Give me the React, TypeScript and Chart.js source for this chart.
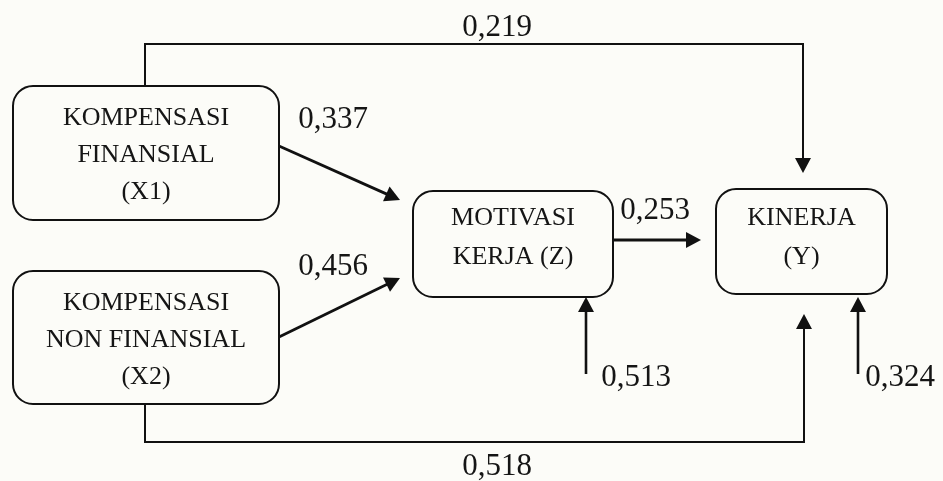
import React, { useEffect, useRef } from "react";
import { Chart, registerables } from "chart.js";

Chart.register(...registerables);

// ---- Data ----
const nodeIds = ["X1", "X2", "Z", "Y"];
const nodeLabels = [
  ["KOMPENSASI", "FINANSIAL", "(X1)"],
  ["KOMPENSASI", "NON FINANSIAL", "(X2)"],
  ["MOTIVASI", "KERJA (Z)"],
  ["KINERJA", "(Y)"],
];
const pathFrom = ["X1", "X2", "X1", "X2", "Z", "eZ", "eY"];
const pathTo = ["Z", "Z", "Y", "Y", "Y", "Z", "Y"];
const pathCoefficients = ["0,337", "0,456", "0,219", "0,518", "0,253", "0,513", "0,324"];

// ---- Layout (diagram units = pixels of a 943x481 canvas) ----
const W = 943;
const H = 481;
const boxRects: Record<string, number[]> = {
  X1: [13, 86, 279, 220],
  X2: [13, 271, 279, 404],
  Z: [413, 191, 613, 297],
  Y: [716, 189, 887, 294],
};
const boxLineY: Record<string, number[]> = {
  X1: [118, 155, 192],
  X2: [303, 340, 377],
  Z: [218, 257],
  Y: [218, 257],
};
const pathPoints: number[][][] = [
  [[279, 146], [400, 200]],
  [[279, 337], [400, 278]],
  [[145, 86], [145, 44], [803, 44], [803, 173]],
  [[145, 404], [145, 442], [804, 442], [804, 314]],
  [[613, 240], [701, 240]],
  [[586, 374], [586, 297]],
  [[858, 374], [858, 297]],
];
const labelPos = [
  [333, 120],
  [333, 267],
  [497, 28],
  [497, 467],
  [655, 211],
  [636, 378],
  [900, 378],
];
const pathWidths = [2.8, 2.8, 2, 2, 2.8, 2.6, 2.6];

const BG = "#fcfcf8";
const INK = "#111111";

const diagramPlugin = {
  id: "diagram",
  beforeDraw(chart: any) {
    const { ctx } = chart;
    ctx.save();
    ctx.fillStyle = BG;
    ctx.fillRect(0, 0, chart.width, chart.height);
    ctx.restore();
  },
  afterDatasetsDraw(chart: any) {
    const { ctx } = chart;
    const xs = chart.scales.x;
    const ys = chart.scales.y;
    const px = (v: number) => xs.getPixelForValue(v);
    const py = (v: number) => ys.getPixelForValue(v);
    ctx.save();
    // arrowheads
    pathPoints.forEach((pts) => {
      const a = pts[pts.length - 2];
      const b = pts[pts.length - 1];
      const x1 = px(a[0]), y1 = py(a[1]), x2 = px(b[0]), y2 = py(b[1]);
      const ang = Math.atan2(y2 - y1, x2 - x1);
      const len = 15, hw = 8;
      ctx.beginPath();
      ctx.moveTo(x2, y2);
      ctx.lineTo(x2 - len * Math.cos(ang) + hw * Math.sin(ang), y2 - len * Math.sin(ang) - hw * Math.cos(ang));
      ctx.lineTo(x2 - len * Math.cos(ang) - hw * Math.sin(ang), y2 - len * Math.sin(ang) + hw * Math.cos(ang));
      ctx.closePath();
      ctx.fillStyle = INK;
      ctx.fill();
    });
    // boxes
    nodeIds.forEach((id, i) => {
      const r = boxRects[id];
      const x0 = px(r[0]), y0 = py(r[1]), x1 = px(r[2]), y1 = py(r[3]);
      ctx.beginPath();
      (ctx as any).roundRect(x0, y0, x1 - x0, y1 - y0, 20);
      ctx.fillStyle = BG;
      ctx.fill();
      ctx.lineWidth = 2;
      ctx.strokeStyle = INK;
      ctx.stroke();
      ctx.fillStyle = "#151515";
      ctx.font = "26px 'Liberation Serif', 'Times New Roman', serif";
      ctx.textAlign = "center";
      ctx.textBaseline = "middle";
      const cx = (x0 + x1) / 2;
      nodeLabels[i].forEach((t, j) => {
        ctx.fillText(t, cx, py(boxLineY[id][j]));
      });
    });
    // coefficients
    ctx.fillStyle = "#151515";
    ctx.font = "31px 'Liberation Serif', 'Times New Roman', serif";
    ctx.textAlign = "center";
    ctx.textBaseline = "middle";
    pathCoefficients.forEach((c, i) => {
      ctx.fillText(c, px(labelPos[i][0]), py(labelPos[i][1]));
    });
    ctx.restore();
  },
};

function shortenEnd(pts: number[][], by: number) {
  const out = pts.map((p) => [p[0], p[1]]);
  const n = out.length;
  const a = out[n - 2];
  const b = out[n - 1];
  const d = Math.hypot(b[0] - a[0], b[1] - a[1]);
  out[n - 1] = [b[0] - ((b[0] - a[0]) / d) * by, b[1] - ((b[1] - a[1]) / d) * by];
  return out;
}

export default function App() {
  const ref = useRef<HTMLCanvasElement | null>(null);
  useEffect(() => {
    document.body.style.margin = "0";
    const canvas = ref.current;
    if (!canvas) return;
    const datasets = pathPoints.map((pts, i) => ({
      label: `${pathFrom[i]}→${pathTo[i]} ${pathCoefficients[i]}`,
      data: shortenEnd(pts, 12).map((p) => ({ x: p[0], y: p[1] })),
      showLine: true,
      borderColor: INK,
      borderWidth: pathWidths[i],
      pointRadius: 0,
      fill: false,
      tension: 0,
    }));
    const chart = new Chart(canvas, {
      type: "scatter",
      data: { datasets },
      options: {
        animation: false,
        responsive: false,
        devicePixelRatio: 1,
        layout: { padding: 0 },
        plugins: { legend: { display: false }, tooltip: { enabled: false } },
        scales: {
          x: { type: "linear", min: 0, max: W, display: false },
          y: { type: "linear", min: 0, max: H, reverse: true, display: false },
        },
      },
      plugins: [diagramPlugin],
    });
    return () => chart.destroy();
  }, []);
  return (
    <div style={{ width: W, height: H, background: BG }}>
      <canvas ref={ref} width={W} height={H} style={{ display: "block" }} />
    </div>
  );
}
